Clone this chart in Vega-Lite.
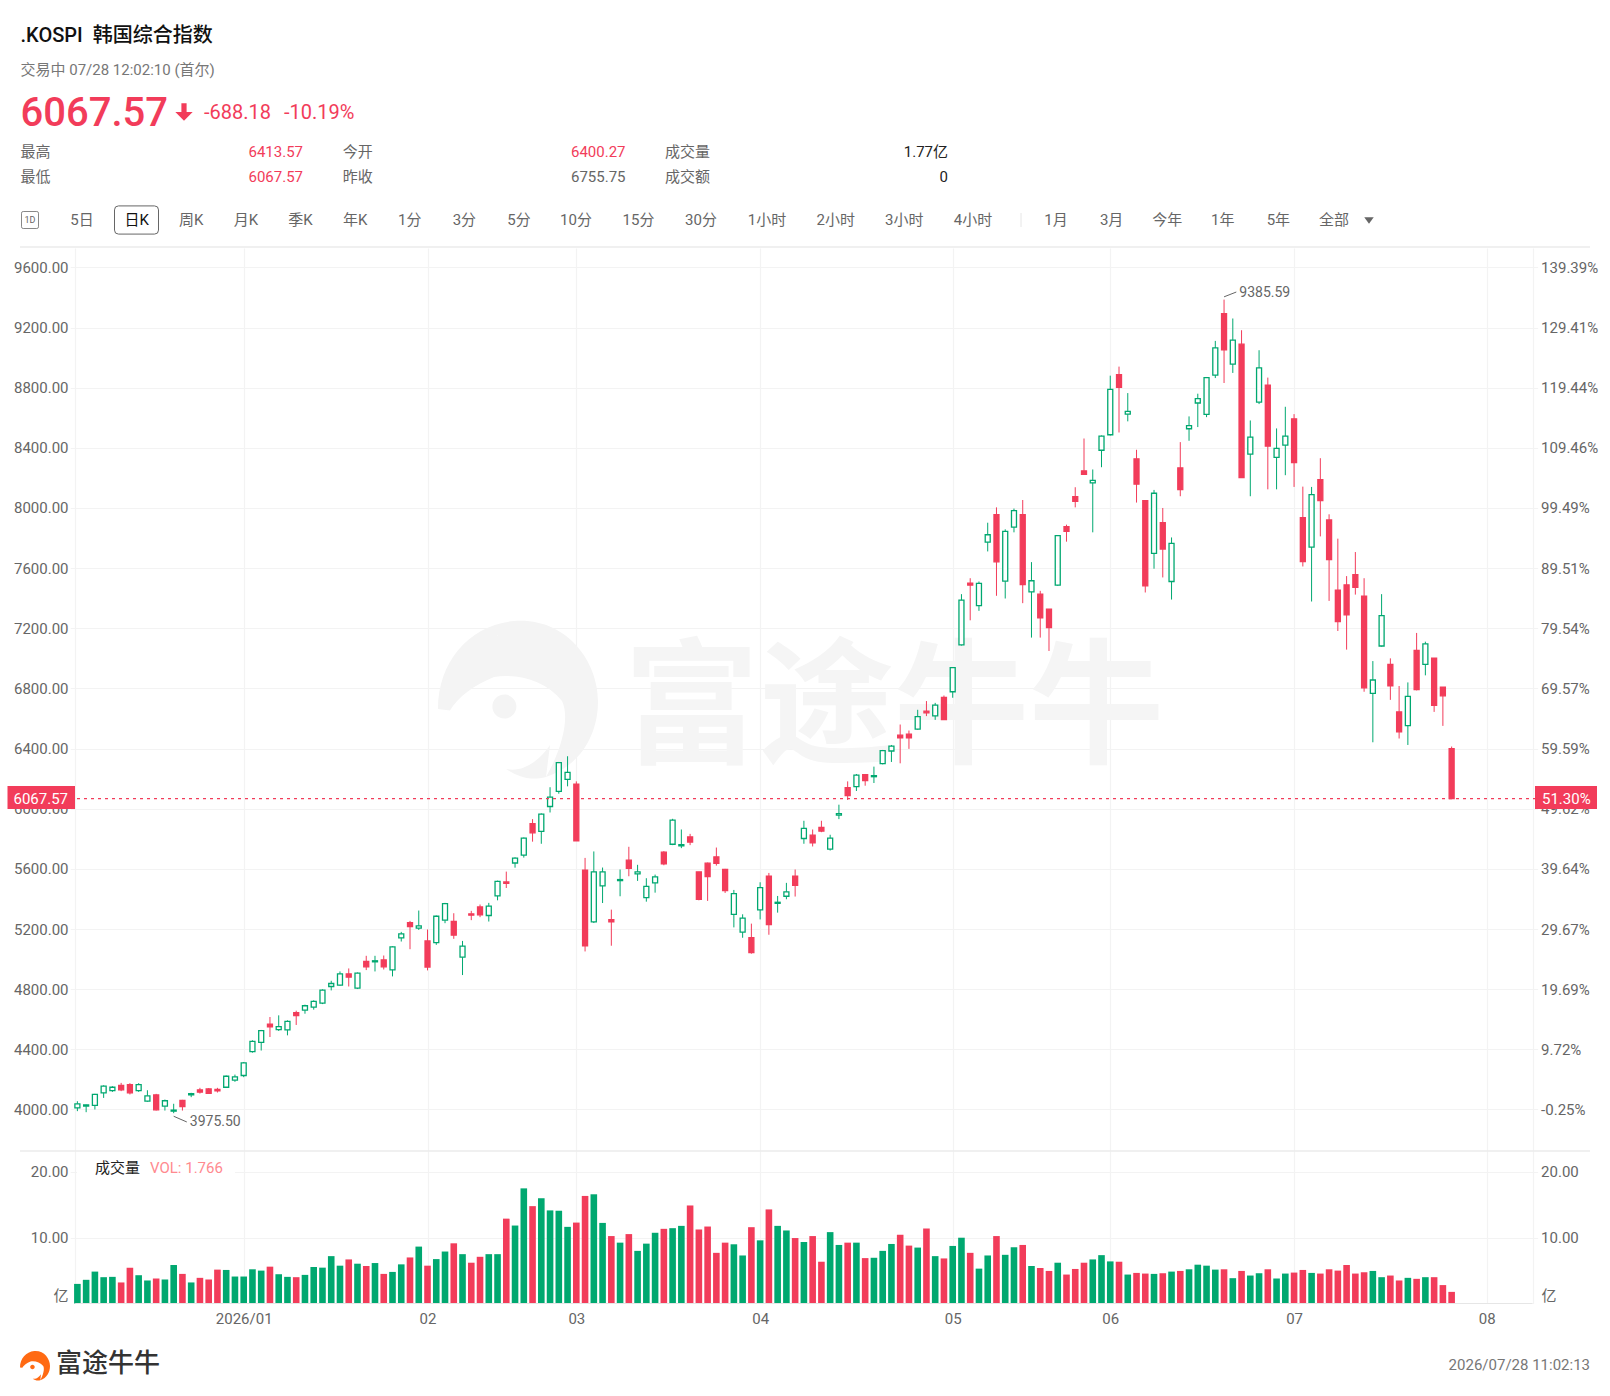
{
"$schema":"https://vega.github.io/schema/vega-lite/v6.json",
"width":1610,"height":1396,"padding":0,"autosize":{"type":"none"},"background":"#ffffff",
"config":{"view":{"stroke":null},"text":{"font":"Roboto, 'Noto Sans CJK SC', sans-serif"},"axis":{"labelFont":"Roboto, 'Noto Sans CJK SC', sans-serif"}},
"datasets":{"k":[
{"i":0,"o":4011,"h":4055,"l":3989,"c":4038,"v":2.98},{"i":1,"o":4022,"h":4033,"l":3982,"c":4031,"v":3.6},{"i":2,"o":4027,"h":4104,"l":4000,"c":4100,"v":4.85},{"i":3,"o":4111,"h":4161,"l":4077,"c":4155,"v":4.0},{"i":4,"o":4126,"h":4155,"l":4117,"c":4148,"v":4.05},{"i":5,"o":4161,"h":4177,"l":4122,"c":4131,"v":3.2},{"i":6,"o":4166,"h":4175,"l":4100,"c":4111,"v":5.45},{"i":7,"o":4126,"h":4175,"l":4117,"c":4166,"v":4.3},{"i":8,"o":4055,"h":4128,"l":4051,"c":4091,"v":3.5},{"i":9,"o":4097,"h":4104,"l":3993,"c":3998,"v":3.8},
{"i":10,"o":4022,"h":4066,"l":3993,"c":4058,"v":3.65},{"i":11,"o":3989,"h":4038,"l":3975.5,"c":3996,"v":5.85},{"i":12,"o":4060,"h":4064,"l":3993,"c":4020,"v":4.5},{"i":13,"o":4097,"h":4111,"l":4082,"c":4106,"v":3.2},{"i":14,"o":4131,"h":4144,"l":4106,"c":4115,"v":3.9},{"i":15,"o":4137,"h":4142,"l":4104,"c":4108,"v":3.65},{"i":16,"o":4133,"h":4144,"l":4113,"c":4124,"v":5.15},{"i":17,"o":4148,"h":4226,"l":4144,"c":4221,"v":5.1},{"i":18,"o":4195,"h":4232,"l":4184,"c":4217,"v":4.1},{"i":19,"o":4226,"h":4316,"l":4215,"c":4310,"v":4.1},
{"i":20,"o":4385,"h":4460,"l":4378,"c":4453,"v":5.2},{"i":21,"o":4447,"h":4529,"l":4392,"c":4524,"v":5.0},{"i":22,"o":4568,"h":4615,"l":4482,"c":4549,"v":5.6},{"i":23,"o":4531,"h":4626,"l":4522,"c":4551,"v":4.45},{"i":24,"o":4529,"h":4593,"l":4493,"c":4586,"v":4.05},{"i":25,"o":4644,"h":4657,"l":4562,"c":4624,"v":4.0},{"i":26,"o":4661,"h":4697,"l":4637,"c":4690,"v":4.35},{"i":27,"o":4681,"h":4726,"l":4664,"c":4719,"v":5.55},{"i":28,"o":4708,"h":4799,"l":4701,"c":4794,"v":5.45},{"i":29,"o":4818,"h":4856,"l":4792,"c":4838,"v":7.2},
{"i":30,"o":4827,"h":4918,"l":4823,"c":4902,"v":5.75},{"i":31,"o":4902,"h":4938,"l":4818,"c":4880,"v":6.7},{"i":32,"o":4807,"h":4911,"l":4801,"c":4907,"v":6.05},{"i":33,"o":4984,"h":5022,"l":4927,"c":4949,"v":5.7},{"i":34,"o":4982,"h":5022,"l":4918,"c":4989,"v":6.15},{"i":35,"o":4995,"h":5024,"l":4931,"c":4949,"v":4.5},{"i":36,"o":4929,"h":5086,"l":4885,"c":5082,"v":4.8},{"i":37,"o":5141,"h":5181,"l":5117,"c":5168,"v":5.95},{"i":38,"o":5243,"h":5254,"l":5066,"c":5217,"v":7.0},{"i":39,"o":5206,"h":5323,"l":5194,"c":5221,"v":8.65},
{"i":40,"o":5121,"h":5197,"l":4925,"c":4947,"v":5.75},{"i":41,"o":5110,"h":5290,"l":5095,"c":5285,"v":6.75},{"i":42,"o":5259,"h":5374,"l":5239,"c":5369,"v":7.9},{"i":43,"o":5250,"h":5305,"l":5135,"c":5159,"v":9.15},{"i":44,"o":5013,"h":5121,"l":4894,"c":5086,"v":7.5},{"i":45,"o":5301,"h":5321,"l":5259,"c":5292,"v":6.2},{"i":46,"o":5347,"h":5363,"l":5279,"c":5294,"v":7.1},{"i":47,"o":5290,"h":5374,"l":5250,"c":5352,"v":7.5},{"i":48,"o":5420,"h":5522,"l":5391,"c":5517,"v":7.5},{"i":49,"o":5513,"h":5582,"l":5473,"c":5504,"v":12.9},
{"i":50,"o":5639,"h":5677,"l":5608,"c":5672,"v":11.85},{"i":51,"o":5692,"h":5809,"l":5675,"c":5805,"v":17.5},{"i":52,"o":5900,"h":5931,"l":5781,"c":5840,"v":14.8},{"i":53,"o":5849,"h":5969,"l":5767,"c":5964,"v":16.0},{"i":54,"o":6015,"h":6143,"l":5975,"c":6077,"v":14.15},{"i":55,"o":6116,"h":6311,"l":6100,"c":6307,"v":14.1},{"i":56,"o":6195,"h":6349,"l":6149,"c":6242,"v":11.65},{"i":57,"o":6164,"h":6182,"l":5787,"c":5787,"v":12.3},{"i":58,"o":5591,"h":5673,"l":5051,"c":5089,"v":16.35},{"i":59,"o":5247,"h":5716,"l":5240,"c":5580,"v":16.6},
{"i":60,"o":5487,"h":5609,"l":5373,"c":5580,"v":12.25},{"i":61,"o":5262,"h":5329,"l":5089,"c":5247,"v":10.25},{"i":62,"o":5522,"h":5596,"l":5418,"c":5529,"v":9.25},{"i":63,"o":5658,"h":5747,"l":5551,"c":5604,"v":10.55},{"i":64,"o":5567,"h":5627,"l":5520,"c":5580,"v":8.0},{"i":65,"o":5409,"h":5538,"l":5382,"c":5484,"v":9.1},{"i":66,"o":5507,"h":5562,"l":5442,"c":5547,"v":10.75},{"i":67,"o":5711,"h":5718,"l":5624,"c":5633,"v":11.35},{"i":68,"o":5764,"h":5933,"l":5758,"c":5924,"v":11.45},{"i":69,"o":5753,"h":5862,"l":5738,"c":5762,"v":11.8},
{"i":70,"o":5813,"h":5833,"l":5758,"c":5778,"v":14.9},{"i":71,"o":5580,"h":5580,"l":5391,"c":5398,"v":11.25},{"i":72,"o":5638,"h":5642,"l":5387,"c":5549,"v":11.7},{"i":73,"o":5680,"h":5742,"l":5622,"c":5636,"v":7.7},{"i":74,"o":5596,"h":5600,"l":5440,"c":5456,"v":9.25},{"i":75,"o":5298,"h":5460,"l":5211,"c":5436,"v":9.0},{"i":76,"o":5180,"h":5298,"l":5142,"c":5273,"v":7.3},{"i":77,"o":5142,"h":5236,"l":5036,"c":5044,"v":11.6},{"i":78,"o":5327,"h":5511,"l":5264,"c":5476,"v":9.6},{"i":79,"o":5551,"h":5573,"l":5162,"c":5229,"v":14.3},
{"i":80,"o":5371,"h":5420,"l":5309,"c":5378,"v":11.8},{"i":81,"o":5418,"h":5507,"l":5398,"c":5447,"v":11.1},{"i":82,"o":5551,"h":5596,"l":5416,"c":5491,"v":9.95},{"i":83,"o":5802,"h":5920,"l":5767,"c":5869,"v":9.35},{"i":84,"o":5824,"h":5862,"l":5749,"c":5773,"v":10.25},{"i":85,"o":5876,"h":5920,"l":5844,"c":5851,"v":6.35},{"i":86,"o":5731,"h":5827,"l":5722,"c":5804,"v":10.85},{"i":87,"o":5958,"h":6027,"l":5931,"c":5967,"v":8.9},{"i":88,"o":6140,"h":6182,"l":6058,"c":6087,"v":9.25},{"i":89,"o":6147,"h":6231,"l":6118,"c":6224,"v":9.25},
{"i":90,"o":6227,"h":6231,"l":6153,"c":6187,"v":6.9},{"i":91,"o":6213,"h":6280,"l":6171,"c":6220,"v":6.95},{"i":92,"o":6300,"h":6391,"l":6295,"c":6387,"v":8.0},{"i":93,"o":6384,"h":6424,"l":6311,"c":6416,"v":9.05},{"i":94,"o":6489,"h":6560,"l":6302,"c":6471,"v":10.45},{"i":95,"o":6496,"h":6520,"l":6398,"c":6471,"v":8.8},{"i":96,"o":6529,"h":6658,"l":6525,"c":6613,"v":8.5},{"i":97,"o":6649,"h":6716,"l":6616,"c":6638,"v":11.4},{"i":98,"o":6618,"h":6704,"l":6591,"c":6689,"v":7.2},{"i":99,"o":6740,"h":6753,"l":6591,"c":6593,"v":6.85},
{"i":100,"o":6778,"h":6942,"l":6738,"c":6938,"v":8.75},{"i":101,"o":7089,"h":7427,"l":7085,"c":7387,"v":10.0},{"i":102,"o":7500,"h":7533,"l":7253,"c":7487,"v":7.7},{"i":103,"o":7351,"h":7511,"l":7316,"c":7498,"v":5.3},{"i":104,"o":7773,"h":7902,"l":7711,"c":7822,"v":7.3},{"i":105,"o":7956,"h":8004,"l":7416,"c":7642,"v":10.25},{"i":106,"o":7513,"h":7858,"l":7398,"c":7844,"v":7.4},{"i":107,"o":7873,"h":7996,"l":7838,"c":7982,"v":8.55},{"i":108,"o":7956,"h":8053,"l":7367,"c":7491,"v":8.9},{"i":109,"o":7442,"h":7640,"l":7138,"c":7516,"v":5.7},
{"i":110,"o":7427,"h":7449,"l":7138,"c":7269,"v":5.4},{"i":111,"o":7327,"h":7327,"l":7049,"c":7204,"v":4.95},{"i":112,"o":7487,"h":7820,"l":7482,"c":7816,"v":6.2},{"i":113,"o":7876,"h":7889,"l":7776,"c":7844,"v":4.4},{"i":114,"o":8076,"h":8138,"l":8004,"c":8044,"v":5.25},{"i":115,"o":8247,"h":8462,"l":8220,"c":8224,"v":6.2},{"i":116,"o":8167,"h":8256,"l":7838,"c":8184,"v":6.7},{"i":117,"o":8384,"h":8482,"l":8271,"c":8478,"v":7.35},{"i":118,"o":8487,"h":8880,"l":8482,"c":8789,"v":6.4},{"i":119,"o":8887,"h":8940,"l":8502,"c":8802,"v":6.35},
{"i":120,"o":8624,"h":8764,"l":8576,"c":8642,"v":4.4},{"i":121,"o":8327,"h":8387,"l":8036,"c":8158,"v":4.65},{"i":122,"o":8049,"h":8049,"l":7438,"c":7482,"v":4.55},{"i":123,"o":7698,"h":8120,"l":7596,"c":8098,"v":4.5},{"i":124,"o":7902,"h":8000,"l":7538,"c":7727,"v":4.6},{"i":125,"o":7511,"h":7804,"l":7391,"c":7764,"v":4.85},{"i":126,"o":8267,"h":8438,"l":8078,"c":8122,"v":4.95},{"i":127,"o":8527,"h":8609,"l":8447,"c":8547,"v":5.2},{"i":128,"o":8698,"h":8760,"l":8538,"c":8727,"v":5.9},{"i":129,"o":8622,"h":8871,"l":8604,"c":8867,"v":5.75},
{"i":130,"o":8884,"h":9111,"l":8864,"c":9064,"v":5.15},{"i":131,"o":9293,"h":9385.59,"l":8831,"c":9051,"v":5.2},{"i":132,"o":8956,"h":9260,"l":8898,"c":9116,"v":3.85},{"i":133,"o":9089,"h":9182,"l":8202,"c":8202,"v":4.95},{"i":134,"o":8358,"h":8582,"l":8078,"c":8471,"v":4.25},{"i":135,"o":8704,"h":9049,"l":8691,"c":8931,"v":4.6},{"i":136,"o":8816,"h":8867,"l":8124,"c":8411,"v":5.2},{"i":137,"o":8336,"h":8529,"l":8124,"c":8396,"v":3.8},{"i":138,"o":8418,"h":8673,"l":8218,"c":8478,"v":4.55},{"i":139,"o":8593,"h":8624,"l":8140,"c":8302,"v":4.7},
{"i":140,"o":7936,"h":8142,"l":7611,"c":7644,"v":5.1},{"i":141,"o":7740,"h":8140,"l":7378,"c":8089,"v":4.65},{"i":142,"o":8189,"h":8331,"l":7811,"c":8049,"v":4.55},{"i":143,"o":7920,"h":7958,"l":7382,"c":7656,"v":5.2},{"i":144,"o":7453,"h":7796,"l":7182,"c":7244,"v":5.0},{"i":145,"o":7489,"h":7547,"l":7058,"c":7289,"v":5.85},{"i":146,"o":7556,"h":7707,"l":7424,"c":7473,"v":4.55},{"i":147,"o":7413,"h":7533,"l":6778,"c":6804,"v":4.75},{"i":148,"o":6767,"h":6982,"l":6442,"c":6856,"v":4.95},{"i":149,"o":7082,"h":7427,"l":7078,"c":7284,"v":4.0},
{"i":150,"o":6960,"h":7000,"l":6724,"c":6818,"v":4.25},{"i":151,"o":6644,"h":6816,"l":6467,"c":6511,"v":3.5},{"i":152,"o":6553,"h":6840,"l":6424,"c":6747,"v":3.9},{"i":153,"o":7053,"h":7169,"l":6787,"c":6793,"v":3.75},{"i":154,"o":6960,"h":7111,"l":6887,"c":7096,"v":4.0},{"i":155,"o":7002,"h":7002,"l":6644,"c":6687,"v":4.0},{"i":156,"o":6809,"h":6809,"l":6551,"c":6751,"v":2.8},{"i":157,"o":6400.27,"h":6413.57,"l":6067.57,"c":6067.57,"v":1.766}
]},
"layer":[
{"data":{"values":[{"s":"logo"}]},"mark":{"type":"point","filled":true,"color":"#f4f4f4","opacity":1,"size":25600,"shape":"M-1,0.1 C-1,-0.5 -0.6,-0.95 -0.05,-1 C-0.35,-0.8 -0.45,-0.55 -0.3,-0.3 C-0.55,-0.2 -0.75,-0.05 -0.85,0.12 Z M-0.05,-1 C0.6,-1.05 1,-0.5 1,0 C1,0.4 0.8,0.8 0.35,0.95 C0.55,0.6 0.65,0.2 0.55,0 C0.35,-0.25 0,-0.35 -0.3,-0.3 C-0.45,-0.55 -0.35,-0.8 -0.05,-1 Z M-0.02,0.07 A0.15,0.15 0 1 1 -0.32,0.07 A0.15,0.15 0 1 1 -0.02,0.07 Z M-0.15,0.85 C0.1,0.9 0.3,0.7 0.4,0.55 L0.35,0.95 C0.15,1 0,0.95 -0.15,0.85 Z"},
 "encoding":{"x":{"field":"s","type":"nominal","axis":null,"scale":{"range":[518,518]}},"y":{"field":"s","type":"nominal","axis":null,"scale":{"range":[701,701]}}}},
{"data":{"values":[{"label":"富途牛牛"}]},"mark":{"type":"text","font":"Noto Sans CJK SC","fontWeight":700,"fontSize":135,"color":"#f5f5f5","align":"left","baseline":"middle"},
 "encoding":{"text":{"field":"label"},"x":{"field":"label","type":"nominal","axis":null,"scale":{"range":[624,624]}},"y":{"field":"label","type":"nominal","axis":null,"scale":{"range":[712,712]}}}},

{"data":{"name":"k"},
 "resolve":{"axis":{"x":"independent","y":"independent"}},
 "layer":[
  {"mark":{"type":"rule","strokeWidth":1},
   "encoding":{
    "x":{"field":"i","type":"quantitative","scale":{"domain":[-0.25,166.25],"range":[70.2,1537.6]},"axis":{"orient":"top","values":[-0.25,19,40,57,78,100,118,139,161,166.25],"labels":false,"grid":true,"gridColor":"#f3f3f3","gridWidth":1.2,"domain":false,"ticks":false,"title":null}},
    "y":{"field":"l","type":"quantitative","scale":{"domain":[3724,9728.8],"range":[1151,248],"zero":false,"nice":false},"axis":{"orient":"left","values":[4000,4400,4800,5200,5600,6000,6400,6800,7200,7600,8000,8400,8800,9200,9600],"format":".2f","grid":true,"gridColor":"#f3f3f3","gridWidth":1.2,"domain":false,"ticks":false,"tickSize":0,"labelPadding":-68,"labelColor":"#666666","labelFontSize":15,"title":null}},
    "y2":{"field":"h"},
    "color":{"condition":{"test":"datum.c>=datum.o","value":"#00a870"},"value":"#f23c5a"}}},
  {"mark":{"type":"bar","size":5,"strokeWidth":1.3,"orient":"vertical"},
   "encoding":{
    "x":{"field":"i","type":"quantitative","scale":{"domain":[-0.25,166.25],"range":[70.2,1537.6]},"axis":null},
    "y":{"field":"o","type":"quantitative","scale":{"domain":[3724,9728.8],"range":[1151,248],"zero":false,"nice":false},"axis":{"orient":"right","values":[4000,4400,4800,5200,5600,6000,6400,6800,7200,7600,8000,8400,8800,9200,9600],"labelExpr":"datum.value==4000?'-0.25%':format((datum.value/4010.25-1)*100,'.2f')+'%'","grid":false,"domain":false,"ticks":false,"tickSize":0,"labelPadding":-69.4,"labelColor":"#666666","labelFontSize":15,"title":null}},
    "y2":{"field":"c"},
    "fill":{"condition":{"test":"datum.c>=datum.o","value":"#ffffff"},"value":"#f23c5a"},
    "stroke":{"condition":{"test":"datum.c>=datum.o","value":"#00a870"},"value":"#f23c5a"}}},
  {"data":{"values":[{"i":11,"i2":12.5,"p":3955,"p2":3917,"label":"3975.50"},{"i":131,"i2":132.4,"p":9404,"p2":9436,"label":"9385.59"}]},
   "mark":{"type":"rule","color":"#666666","strokeWidth":1},
   "encoding":{
    "x":{"field":"i","type":"quantitative","scale":{"domain":[-0.25,166.25],"range":[70.2,1537.6]},"axis":null},
    "x2":{"field":"i2"},
    "y":{"field":"p","type":"quantitative","scale":{"domain":[3724,9728.8],"range":[1151,248],"zero":false,"nice":false},"axis":null},
    "y2":{"field":"p2"}}},
  {"data":{"values":[{"i2":12.5,"p2":3917,"label":"3975.50"},{"i2":132.4,"p2":9428,"label":"9385.59"}]},
   "mark":{"type":"text","align":"left","baseline":"middle","dx":3,"fontSize":14,"color":"#666666"},
   "encoding":{
    "x":{"field":"i2","type":"quantitative","scale":{"domain":[-0.25,166.25],"range":[70.2,1537.6]},"axis":null},
    "y":{"field":"p2","type":"quantitative","scale":{"domain":[3724,9728.8],"range":[1151,248],"zero":false,"nice":false},"axis":null},
    "text":{"field":"label"}}}
 ]},

{"data":{"name":"k"},
 "resolve":{"axis":{"x":"independent","y":"independent"}},
 "layer":[
  {"mark":{"type":"bar","size":6.6,"orient":"vertical"},
   "encoding":{
    "x":{"field":"i","type":"quantitative","scale":{"domain":[-0.25,166.25],"range":[70.2,1537.6]},"axis":{"orient":"top","values":[-0.25,19,40,57,78,100,118,139,161,166.25],"labelExpr":"datum.value==19?'2026/01':datum.value==40?'02':datum.value==57?'03':datum.value==78?'04':datum.value==100?'05':datum.value==118?'06':datum.value==139?'07':datum.value==161?'08':''","labelOverlap":false,"labelBaseline":"middle","labelPadding":-1318,"labelColor":"#666666","labelFontSize":15,"grid":true,"gridColor":"#f3f3f3","gridWidth":1.2,"domain":false,"ticks":false,"tickSize":0,"title":null}},
    "y":{"field":"v","type":"quantitative","stack":null,"scale":{"domain":[0,23.18],"range":[1303.5,1151],"nice":false},"axis":{"orient":"left","values":[10,20],"format":".2f","grid":true,"gridColor":"#f3f3f3","gridWidth":1.2,"domain":false,"ticks":false,"tickSize":0,"labelPadding":-68,"labelColor":"#666666","labelFontSize":15,"title":null}},
    "color":{"condition":{"test":"datum.c>=datum.o","value":"#00a870"},"value":"#f23c5a"}}},
  {"data":{"values":[{"i":-0.25,"i2":166.25,"v":0}]},"mark":{"type":"rule","color":"#e6e6e6","strokeWidth":1.2},
   "encoding":{
    "x":{"field":"i","type":"quantitative","scale":{"domain":[-0.25,166.25],"range":[70.2,1537.6]},"axis":null},
    "x2":{"field":"i2"},
    "y":{"field":"v","type":"quantitative","scale":{"domain":[0,23.18],"range":[1303.5,1151],"nice":false},"axis":{"orient":"right","values":[10,20],"format":".2f","grid":false,"domain":false,"ticks":false,"tickSize":0,"labelPadding":-69.4,"labelColor":"#666666","labelFontSize":15,"title":null}}}}
 ]},

{"data":{"values":[{"label":"亿","v":1.2,"side":"l"},{"label":"亿","v":1.2,"side":"r"}]},"mark":{"type":"text","fontSize":15,"color":"#666666","align":"center","baseline":"middle"},
 "encoding":{"text":{"field":"label"},"x":{"field":"side","type":"nominal","axis":null,"scale":{"domain":["l","r"],"range":[61,1549],"padding":0}},"y":{"field":"v","type":"quantitative","axis":null,"scale":{"domain":[0,23.18],"range":[1303.5,1151],"nice":false}}}},

{"data":{"values":[{"a":0,"b":1,"r":"top"},{"a":0,"b":1,"r":"sep"}]},"mark":{"type":"rule","color":"#ebebeb","strokeWidth":1.6},
 "encoding":{"x":{"field":"a","type":"quantitative","axis":null,"scale":{"domain":[0,1],"range":[20,1590]}},"x2":{"field":"b"},"y":{"field":"r","type":"nominal","axis":null,"scale":{"type":"point","domain":["top","sep"],"range":[247,1151],"padding":0}}}},

{"data":{"values":[{"a":0,"b":1,"p":6067.57}]},"mark":{"type":"rule","color":"#f23c5a","strokeWidth":1.2,"strokeDash":[3,4]},
 "encoding":{"x":{"field":"a","type":"quantitative","axis":null,"scale":{"domain":[0,1],"range":[70,1537]}},"x2":{"field":"b"},"y":{"field":"p","type":"quantitative","axis":null,"scale":{"domain":[3724,9728.8],"range":[1151,248],"zero":false,"nice":false}}}},

{"data":{"values":[{"a":0,"b":1,"p":6067.57}]},"mark":{"type":"bar","size":23,"color":"#f23c5a","orient":"horizontal"},
 "encoding":{"x":{"field":"a","type":"quantitative","axis":null,"scale":{"domain":[0,1],"range":[7.5,75]}},"x2":{"field":"b"},"y":{"field":"p","type":"quantitative","axis":null,"scale":{"domain":[3724,9728.8],"range":[1151,248],"zero":false,"nice":false}}}},
{"data":{"values":[{"a":0,"b":1,"p":6067.57}]},"mark":{"type":"bar","size":23,"color":"#f23c5a","orient":"horizontal"},
 "encoding":{"x":{"field":"a","type":"quantitative","axis":null,"scale":{"domain":[0,1],"range":[1535,1597]}},"x2":{"field":"b"},"y":{"field":"p","type":"quantitative","axis":null,"scale":{"domain":[3724,9728.8],"range":[1151,248],"zero":false,"nice":false}}}},
{"data":{"values":[{"label":"6067.57","p":6067.57}]},"mark":{"type":"text","fontSize":15,"color":"#ffffff","align":"right","baseline":"middle"},
 "encoding":{"text":{"field":"label"},"x":{"field":"label","type":"nominal","axis":null,"scale":{"range":[68,68]}},"y":{"field":"p","type":"quantitative","axis":null,"scale":{"domain":[3724,9728.8],"range":[1151,248],"zero":false,"nice":false}}}},
{"data":{"values":[{"label":"51.30%","p":6067.57}]},"mark":{"type":"text","fontSize":15,"color":"#ffffff","align":"left","baseline":"middle"},
 "encoding":{"text":{"field":"label"},"x":{"field":"label","type":"nominal","axis":null,"scale":{"range":[1542,1542]}},"y":{"field":"p","type":"quantitative","axis":null,"scale":{"domain":[3724,9728.8],"range":[1151,248],"zero":false,"nice":false}}}},

{"data":{"values":[{"a":0,"b":1,"s":"box"}]},"mark":{"type":"bar","size":20,"color":"#ffffff","orient":"horizontal"},
 "encoding":{"x":{"field":"a","type":"quantitative","axis":null,"scale":{"domain":[0,1],"range":[77,235]}},"x2":{"field":"b"},"y":{"field":"s","type":"nominal","axis":null,"scale":{"range":[1169,1169]}}}},
{"data":{"values":[{"label":"成交量"}]},"mark":{"type":"text","fontSize":15,"color":"#222222","align":"left","baseline":"middle"},
 "encoding":{"text":{"field":"label"},"x":{"field":"label","type":"nominal","axis":null,"scale":{"range":[95,95]}},"y":{"field":"label","type":"nominal","axis":null,"scale":{"range":[1167.5,1167.5]}}}},
{"data":{"values":[{"label":"VOL: 1.766"}]},"mark":{"type":"text","fontSize":15,"color":"#ff8a8f","align":"left","baseline":"middle"},
 "encoding":{"text":{"field":"label"},"x":{"field":"label","type":"nominal","axis":null,"scale":{"range":[150,150]}},"y":{"field":"label","type":"nominal","axis":null,"scale":{"range":[1167.5,1167.5]}}}},

{"data":{"values":[{"label":".KOSPI\u00a0\u00a0韩国综合指数"}]},"mark":{"type":"text","fontSize":20,"fontWeight":500,"color":"#111111","align":"left","baseline":"middle"},
 "encoding":{"text":{"field":"label"},"x":{"field":"label","type":"nominal","axis":null,"scale":{"range":[20.5,20.5]}},"y":{"field":"label","type":"nominal","axis":null,"scale":{"range":[36,36]}}}},
{"data":{"values":[{"label":"交易中 07/28 12:02:10 (首尔)"}]},"mark":{"type":"text","fontSize":15,"color":"#777777","align":"left","baseline":"middle"},
 "encoding":{"text":{"field":"label"},"x":{"field":"label","type":"nominal","axis":null,"scale":{"range":[20.5,20.5]}},"y":{"field":"label","type":"nominal","axis":null,"scale":{"range":[69.5,69.5]}}}},
{"data":{"values":[{"label":"6067.57"}]},"mark":{"type":"text","fontSize":40,"fontWeight":500,"color":"#f23c5a","align":"left","baseline":"middle"},
 "encoding":{"text":{"field":"label"},"x":{"field":"label","type":"nominal","axis":null,"scale":{"range":[20.5,20.5]}},"y":{"field":"label","type":"nominal","axis":null,"scale":{"range":[114,114]}}}},
{"data":{"values":[{"s":"arrow"}]},"mark":{"type":"point","filled":true,"opacity":1,"color":"#f23c5a","size":300,"shape":"M-0.3,-1 L0.3,-1 L0.3,0 L1,0 L0,1 L-1,0 L-0.3,0 Z"},
 "encoding":{"x":{"field":"s","type":"nominal","axis":null,"scale":{"range":[184,184]}},"y":{"field":"s","type":"nominal","axis":null,"scale":{"range":[112,112]}}}},
{"data":{"values":[{"label":"-688.18"},{"label":"-10.19%"}]},"mark":{"type":"text","fontSize":20,"color":"#f23c5a","align":"left","baseline":"middle"},
 "encoding":{"text":{"field":"label"},"x":{"field":"label","type":"nominal","axis":null,"scale":{"domain":["-688.18","-10.19%"],"range":[204,284],"padding":0}},"y":{"field":"label","type":"nominal","axis":null,"scale":{"domain":["-688.18","-10.19%"],"range":[113,113],"padding":0}}}},

{"data":{"values":[{"label":"最高","col":"c1","row":"r1"},{"label":"最低","col":"c1","row":"r2"},{"label":"今开","col":"c2","row":"r1"},{"label":"昨收","col":"c2","row":"r2"},{"label":"成交量","col":"c3","row":"r1"},{"label":"成交额","col":"c3","row":"r2"}]},
 "mark":{"type":"text","fontSize":15,"color":"#666666","align":"left","baseline":"middle"},
 "encoding":{"text":{"field":"label"},"x":{"field":"col","type":"nominal","axis":null,"scale":{"domain":["c1","c2","c3"],"range":[20.5,665],"padding":0}},"y":{"field":"row","type":"nominal","axis":null,"scale":{"domain":["r1","r2"],"range":[151.7,176.7],"padding":0}}}},
{"data":{"values":[{"label":"6413.57","col":"c1","row":"r1"},{"label":"6067.57","col":"c1","row":"r2"},{"label":"6400.27","col":"c2","row":"r1"},{"label":"6755.75","col":"c2","row":"r2"},{"label":"1.77亿","col":"c3","row":"r1"},{"label":"0","col":"c3","row":"r2"}]},
 "mark":{"type":"text","fontSize":15,"align":"right","baseline":"middle"},
 "encoding":{"text":{"field":"label"},"x":{"field":"col","type":"nominal","axis":null,"scale":{"domain":["c1","c2","c3"],"range":[303,948],"padding":0}},"y":{"field":"row","type":"nominal","axis":null,"scale":{"domain":["r1","r2"],"range":[151.7,176.7],"padding":0}},
  "color":{"condition":[{"test":"datum.col==='c3'","value":"#222222"},{"test":"datum.label==='6755.75'","value":"#666666"}],"value":"#f23c5a"}}},

{"data":{"values":[{"s":"1D"}]},"mark":{"type":"point","filled":false,"opacity":1,"color":"#888888","strokeWidth":1,"size":289,"shape":"M-0.8,-1 L0.8,-1 Q1,-1 1,-0.8 L1,0.8 Q1,1 0.8,1 L-0.8,1 Q-1,1 -1,0.8 L-1,-0.8 Q-1,-1 -0.8,-1 Z"},
 "encoding":{"x":{"field":"s","type":"nominal","axis":null,"scale":{"range":[30,30]}},"y":{"field":"s","type":"nominal","axis":null,"scale":{"range":[220,220]}}}},
{"data":{"values":[{"s":"1D"}]},"mark":{"type":"text","fontSize":9,"color":"#666666","align":"center","baseline":"middle"},
 "encoding":{"text":{"field":"s"},"x":{"field":"s","type":"nominal","axis":null,"scale":{"range":[30,30]}},"y":{"field":"s","type":"nominal","axis":null,"scale":{"range":[220,220]}}}},
{"data":{"values":[{"s":"day"}]},"mark":{"type":"point","filled":false,"opacity":1,"color":"#666666","strokeWidth":1,"size":1936,"shape":"M-0.82,-0.64 L0.82,-0.64 Q1,-0.64 1,-0.46 L1,0.46 Q1,0.64 0.82,0.64 L-0.82,0.64 Q-1,0.64 -1,0.46 L-1,-0.46 Q-1,-0.64 -0.82,-0.64 Z"},
 "encoding":{"x":{"field":"s","type":"nominal","axis":null,"scale":{"range":[136.5,136.5]}},"y":{"field":"s","type":"nominal","axis":null,"scale":{"range":[220,220]}}}},
{"data":{"values":[{"label":"5日","row":"bar"},{"label":"日K","row":"bar"},{"label":"周K","row":"bar"},{"label":"月K","row":"bar"},{"label":"季K","row":"bar"},{"label":"年K","row":"bar"},{"label":"1分","row":"bar"},{"label":"3分","row":"bar"},{"label":"5分","row":"bar"}]},
 "mark":{"type":"text","fontSize":15,"align":"center","baseline":"middle"},
 "encoding":{"text":{"field":"label"},"x":{"field":"label","type":"nominal","sort":null,"axis":null,"scale":{"range":[82,519],"padding":0}},"y":{"field":"row","type":"nominal","axis":null,"scale":{"range":[220,220]}},
  "color":{"condition":{"test":"datum.label==='日K'","value":"#111111"},"value":"#666666"},
  "fontWeight":{"condition":{"test":"datum.label==='日K'","value":500},"value":400}}},
{"data":{"values":[{"label":"10分","row":"bar"},{"label":"15分","row":"bar"},{"label":"30分","row":"bar"}]},
 "mark":{"type":"text","fontSize":15,"color":"#666666","align":"center","baseline":"middle"},
 "encoding":{"text":{"field":"label"},"x":{"field":"label","type":"nominal","sort":null,"axis":null,"scale":{"range":[576,701],"padding":0}},"y":{"field":"row","type":"nominal","axis":null,"scale":{"range":[220,220]}}}},
{"data":{"values":[{"label":"1小时","row":"bar"},{"label":"2小时","row":"bar"},{"label":"3小时","row":"bar"},{"label":"4小时","row":"bar"}]},
 "mark":{"type":"text","fontSize":15,"color":"#666666","align":"center","baseline":"middle"},
 "encoding":{"text":{"field":"label"},"x":{"field":"label","type":"nominal","sort":null,"axis":null,"scale":{"range":[767,973],"padding":0}},"y":{"field":"row","type":"nominal","axis":null,"scale":{"range":[220,220]}}}},
{"data":{"values":[{"label":"1月","row":"bar"},{"label":"3月","row":"bar"},{"label":"今年","row":"bar"},{"label":"1年","row":"bar"},{"label":"5年","row":"bar"},{"label":"全部","row":"bar"}]},
 "mark":{"type":"text","fontSize":15,"color":"#666666","align":"center","baseline":"middle"},
 "encoding":{"text":{"field":"label"},"x":{"field":"label","type":"nominal","sort":null,"axis":null,"scale":{"range":[1056,1334],"padding":0}},"y":{"field":"row","type":"nominal","axis":null,"scale":{"range":[220,220]}}}},
{"data":{"values":[{"s":"sep","a":0,"b":1}]},"mark":{"type":"rule","color":"#e6e6e6","strokeWidth":1},
 "encoding":{"x":{"field":"s","type":"nominal","axis":null,"scale":{"range":[1021,1021]}},"y":{"field":"a","type":"quantitative","axis":null,"scale":{"domain":[0,1],"range":[227,213]}},"y2":{"field":"b"}}},
{"data":{"values":[{"s":"menu"}]},"mark":{"type":"point","filled":true,"opacity":1,"color":"#666666","size":90,"shape":"M-1,-0.6 L1,-0.6 L0,0.8 Z"},
 "encoding":{"x":{"field":"s","type":"nominal","axis":null,"scale":{"range":[1369,1369]}},"y":{"field":"s","type":"nominal","axis":null,"scale":{"range":[220,220]}}}},

{"data":{"values":[{"s":"mark"}]},"mark":{"type":"point","filled":true,"opacity":1,"color":"#ff6a13","size":900,"shape":"M-1,0.1 C-1,-0.5 -0.6,-0.95 -0.05,-1 C-0.35,-0.8 -0.45,-0.55 -0.3,-0.3 C-0.55,-0.2 -0.75,-0.05 -0.85,0.12 Z M-0.05,-1 C0.6,-1.05 1,-0.5 1,0 C1,0.4 0.8,0.8 0.35,0.95 C0.55,0.6 0.65,0.2 0.55,0 C0.35,-0.25 0,-0.35 -0.3,-0.3 C-0.45,-0.55 -0.35,-0.8 -0.05,-1 Z M-0.02,0.07 A0.15,0.15 0 1 1 -0.32,0.07 A0.15,0.15 0 1 1 -0.02,0.07 Z M-0.15,0.85 C0.1,0.9 0.3,0.7 0.4,0.55 L0.35,0.95 C0.15,1 0,0.95 -0.15,0.85 Z"},
 "encoding":{"x":{"field":"s","type":"nominal","axis":null,"scale":{"range":[35,35]}},"y":{"field":"s","type":"nominal","axis":null,"scale":{"range":[1366,1366]}}}},
{"data":{"values":[{"label":"富途牛牛"}]},"mark":{"type":"text","font":"Noto Sans CJK SC","fontSize":26,"fontWeight":500,"color":"#333333","align":"left","baseline":"middle"},
 "encoding":{"text":{"field":"label"},"x":{"field":"label","type":"nominal","axis":null,"scale":{"range":[56,56]}},"y":{"field":"label","type":"nominal","axis":null,"scale":{"range":[1364,1364]}}}},
{"data":{"values":[{"label":"2026/07/28 11:02:13"}]},"mark":{"type":"text","fontSize":15,"color":"#777777","align":"right","baseline":"middle"},
 "encoding":{"text":{"field":"label"},"x":{"field":"label","type":"nominal","axis":null,"scale":{"range":[1590,1590]}},"y":{"field":"label","type":"nominal","axis":null,"scale":{"range":[1364.5,1364.5]}}}}
],
"resolve":{"scale":{"x":"independent","y":"independent"},"axis":{"x":"independent","y":"independent"}}
}
